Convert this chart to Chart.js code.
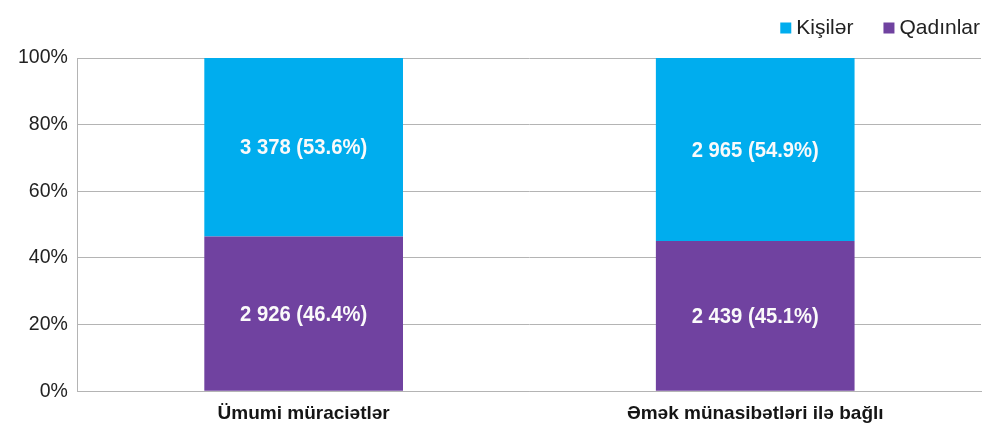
<!DOCTYPE html>
<html>
<head>
<meta charset="utf-8">
<script src="https://cdn.jsdelivr.net/npm/chart.js@4/dist/chart.umd.min.js"></script>
<style>
  html, body { margin: 0; padding: 0; background: #fff; }
  #wrap { width: 984px; height: 434px; }
</style>
</head>
<body>
<div id="wrap"><canvas id="chart" width="984" height="434"></canvas></div>
<script>
// categories and values
var categories = ['Ümumi müraciətlər', 'Əmək münasibətləri ilə bağlı'];
var menCounts = [3378, 2965];
var menShare = [53.6, 54.9];
var womenCounts = [2926, 2439];
var womenShare = [46.4, 45.1];
var yTicks = [0, 20, 40, 60, 80, 100];

var FONT = '"Liberation Sans", Arial, sans-serif';

function fmtCount(n) {
  // thousands separated with a space
  return String(n).replace(/\B(?=(\d{3})+(?!\d))/g, ' ');
}

// writes "count (share%)" in the middle of each bar piece
// (squeezed a little sideways, the original uses a narrow face)
var barLabels = {
  id: 'barLabels',
  afterDatasetsDraw: function(chart) {
    var ctx = chart.ctx;
    var squeeze = 0.92;
    chart.data.datasets.forEach(function(ds, i) {
      var meta = chart.getDatasetMeta(i);
      meta.data.forEach(function(bar, j) {
        var txt = fmtCount(ds.counts[j]) + ' (' + ds.data[j].toFixed(1) + '%)';
        ctx.save();
        ctx.translate(bar.x, (bar.y + bar.base) / 2 + 1);
        ctx.scale(squeeze, 1);
        ctx.fillStyle = '#fafafa';
        ctx.font = 'bold 22px ' + FONT;
        ctx.textAlign = 'center';
        ctx.textBaseline = 'middle';
        ctx.fillText(txt, 0, 0);
        ctx.restore();
      });
    });
  }
};

// legend in the top right corner, men first
var topLegend = {
  id: 'topLegend',
  afterDraw: function(chart) {
    var ctx = chart.ctx;
    var items = chart.data.datasets.slice().reverse();
    ctx.save();
    ctx.font = '21px ' + FONT;
    ctx.textBaseline = 'middle';
    var box = 11, gapText = 5, gapItem = 30, y = 28;
    var total = 0;
    items.forEach(function(ds, i) {
      total += box + gapText + ctx.measureText(ds.label).width + (i ? gapItem : 0);
    });
    var x = 980 - total;
    items.forEach(function(ds) {
      ctx.fillStyle = ds.backgroundColor;
      ctx.fillRect(x, y - box / 2, box, box);
      x += box + gapText;
      ctx.fillStyle = '#222';
      ctx.fillText(ds.label, x, y);
      x += ctx.measureText(ds.label).width + gapItem;
    });
    ctx.restore();
  }
};

var ctx = document.getElementById('chart').getContext('2d');
var chart = new Chart(ctx, {
  type: 'bar',
  data: {
    labels: categories,
    datasets: [
      {
        label: 'Qadınlar',
        data: womenShare,
        counts: womenCounts,
        backgroundColor: '#7042a0'
      },
      {
        label: 'Kişilər',
        data: menShare,
        counts: menCounts,
        backgroundColor: '#00adee'
      }
    ]
  },
  options: {
    responsive: false,
    animation: false,
    layout: { padding: { left: 8, right: 3, top: 58, bottom: 6 } },
    datasets: { bar: { categoryPercentage: 1, barPercentage: 0.44 } },
    plugins: {
      tooltip: { enabled: false },
      legend: { display: false }
    },
    scales: {
      x: {
        stacked: true,
        grid: { display: false },
        border: { display: true, color: '#b4b4b4', width: 1 },
        ticks: {
          color: '#151515',
          padding: 3,
          font: { size: 19, weight: 'bold', family: FONT }
        }
      },
      y: {
        stacked: true,
        min: 0,
        max: 100,
        afterBuildTicks: function(axis) {
          axis.ticks = yTicks.map(function(v) { return { value: v }; });
        },
        grid: { color: '#b4b4b4', lineWidth: 1, drawTicks: false },
        border: { display: true, color: '#b4b4b4', width: 1 },
        ticks: {
          color: '#222',
          padding: 10,
          font: { size: 19.5, family: FONT },
          callback: function(v) { return v + '%'; }
        }
      }
    }
  },
  plugins: [barLabels, topLegend]
});
</script>
</body>
</html>
